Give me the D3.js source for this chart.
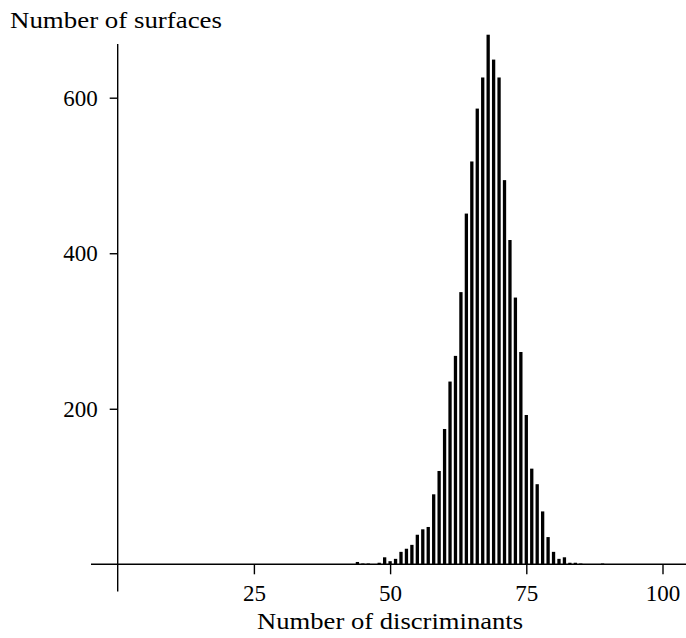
<!DOCTYPE html>
<html>
<head>
<meta charset="utf-8">
<script src="https://cdn.jsdelivr.net/npm/d3@7"></script>
<style>
  body { margin: 0; background: #fff; }
  svg text { font-family: "Liberation Serif", "Times New Roman", serif; fill: #000; }
</style>
</head>
<body>
<div id="root"></div>
<script>
// number of discriminants (x) and surface counts (y)
const discriminants = [44, 45, 46, 47, 48, 49, 50, 51, 52, 53, 54, 55, 56, 57, 58, 59, 60,
  61, 62, 63, 64, 65, 66, 67, 68, 69, 70, 71, 72, 73, 74, 75, 76, 77, 78, 79, 80,
  81, 82, 83, 84, 85, 86, 87, 88, 89];
const surfaces = [3, 1, 1, 0, 2, 9, 4, 7, 16, 20, 25, 38, 45, 48, 90, 120, 174,
  235, 268, 350, 451, 518, 586, 626, 681, 649, 626, 494, 417, 343, 273, 192, 123, 103, 68, 35, 16,
  7, 9, 2, 2, 1, 0, 0, 0, 1];
const xTicks = [25, 50, 75, 100];
const yTicks = [200, 400, 600];

const width = 686, height = 638;

const svg = d3.select("#root").append("svg")
  .attr("width", width)
  .attr("height", height)
  .attr("viewBox", [0, 0, width, height]);

const x = d3.scaleLinear().domain([0, 100]).range([117.7, 662.5]);
const y = d3.scaleLinear().domain([0, 600]).range([564.3, 97.7]);

const data = discriminants.map((d, i) => ({ k: d, n: surfaces[i] }));
const barW = 3.3;

// bars
svg.append("g")
  .selectAll("rect")
  .data(data.filter((d) => d.n > 0))
  .join("rect")
  .attr("x", (d) => x(d.k) - barW / 2)
  .attr("y", (d) => y(d.n))
  .attr("width", barW)
  .attr("height", (d) => y(0) - y(d.n))
  .attr("fill", "#000");

// axis lines (they run a bit past the origin)
svg.append("line")
  .attr("x1", x(-4.9)).attr("x2", x(104.5))
  .attr("y1", y(0)).attr("y2", y(0))
  .attr("stroke", "#000").attr("stroke-width", 1.4);
svg.append("line")
  .attr("x1", x(0)).attr("x2", x(0))
  .attr("y1", y(-35)).attr("y2", y(669))
  .attr("stroke", "#000").attr("stroke-width", 1.4);

const xAxis = d3.axisBottom(x).tickValues(xTicks).tickSize(10).tickPadding(7);
const gx = svg.append("g")
  .attr("transform", `translate(0, ${y(0)})`)
  .call(xAxis);
gx.select(".domain").remove();
gx.selectAll(".tick line").attr("stroke-width", 1.4);
gx.selectAll(".tick text").style("font-size", "23px")
  .style("font-family", "Liberation Serif").attr("dy", "0.85em");

const yAxis = d3.axisLeft(y).tickValues(yTicks).tickSize(8).tickPadding(12);
const gy = svg.append("g")
  .attr("transform", `translate(${x(0)}, 0)`)
  .call(yAxis);
gy.select(".domain").remove();
gy.selectAll(".tick line").attr("stroke-width", 1.4);
gy.selectAll(".tick text").style("font-size", "23px")
  .style("font-family", "Liberation Serif");

// titles
svg.append("text")
  .attr("x", 10).attr("y", 28)
  .style("font-size", "23px")
  .attr("textLength", 212)
  .attr("lengthAdjust", "spacingAndGlyphs")
  .text("Number of surfaces");

svg.append("text")
  .attr("x", x(50)).attr("y", 629)
  .attr("text-anchor", "middle")
  .style("font-size", "23px")
  .attr("textLength", 266)
  .attr("lengthAdjust", "spacingAndGlyphs")
  .text("Number of discriminants");
</script>
</body>
</html>
